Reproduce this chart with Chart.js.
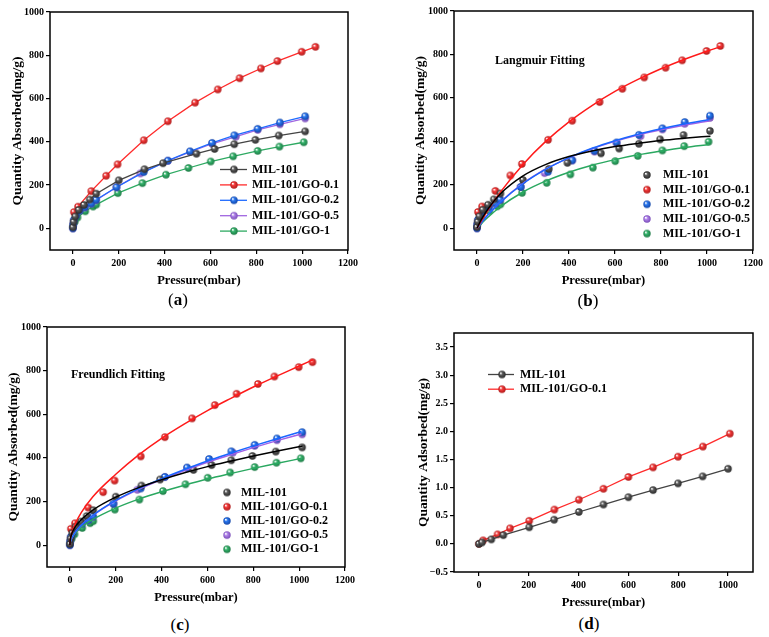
<!DOCTYPE html>
<html>
<head>
<meta charset="utf-8">
<script src="https://cdn.jsdelivr.net/npm/chart.js@4.4.0/dist/chart.umd.min.js"></script>
<style>
  body { margin: 0; background: #fff; width: 769px; height: 637px; position: relative; overflow: hidden; font-family: "Liberation Serif", serif; }
  canvas { position: absolute; }
  .cap { position: absolute; font-size: 17px; transform: translate(-50%, -50%); color: #000; }
</style>
</head>
<body>
<canvas id="chartA" width="380" height="292" style="left:0;top:0"></canvas>
<canvas id="chartB" width="365" height="292" style="left:404px;top:0"></canvas>
<canvas id="chartC" width="380" height="297" style="left:0;top:312px"></canvas>
<canvas id="chartD" width="365" height="302" style="left:404px;top:312px"></canvas>
<div class="cap" style="left:178px;top:300px">(<b>a</b>)</div>
<div class="cap" style="left:588px;top:301px">(<b>b</b>)</div>
<div class="cap" style="left:180px;top:625px">(<b>c</b>)</div>
<div class="cap" style="left:589px;top:624px">(<b>d</b>)</div>
<script>
// --- data: [pressure mbar, quantity mg/g] ---
const seriesNames = ['MIL-101', 'MIL-101/GO-0.1', 'MIL-101/GO-0.2', 'MIL-101/GO-0.5', 'MIL-101/GO-1'];

const mil101 = [[0,5],[3,30],[10,55],[25,85],[48,108],[73,133],[102,160],[200,222],[312,273],[393,301],[539,345],[618,367],[704,389],[796,409],[898,429],[1013,448]];
const go01 = [[4,75],[22,100],[80,172],[145,243],[195,296],[309,407],[414,495],[533,581],[632,642],[727,694],[820,739],[892,773],[998,816],[1058,839]];
const go02 = [[0,0],[1,18],[4,38],[13,58],[29,82],[52,98],[80,115],[101,132],[190,190],[309,260],[414,313],[511,356],[607,395],[704,430],[806,460],[903,489],[1013,518]];
const go05 = [[0,0],[1,17],[4,37],[13,57],[29,82],[52,97],[80,114],[101,130],[190,190],[294,254],[414,312],[511,353],[607,391],[711,424],[806,455],[903,481],[1013,508]];
const go1 = [[0,8],[8,30],[20,50],[54,79],[88,101],[102,110],[196,163],[303,209],[406,248],[504,279],[601,309],[699,333],[806,358],[901,378],[1007,398]];

// Langmuir fit curves, panel (b)
const langMil101 = [[0,0],[5,11],[10,22],[25,51],[50,92],[100,157],[200,241],[300,294],[400,330],[500,356],[600,376],[700,391],[800,404],[900,414],[1015,424]];
const langGo01 = [[0,0],[5,9],[10,18],[25,45],[50,87],[100,164],[200,294],[300,401],[400,490],[500,565],[600,630],[700,685],[800,734],[900,777],[1000,815],[1060,836]];
const langGo02 = [[0,0],[5,7],[10,14],[25,33],[50,64],[100,118],[200,205],[300,272],[400,325],[500,368],[600,403],[700,433],[800,458],[900,480],[1010,501]];
const langGo05 = [[0,0],[5,7],[10,14],[25,34],[50,65],[100,120],[200,207],[300,273],[400,324],[500,366],[600,400],[700,429],[800,453],[900,474],[1010,494]];
const langGo1 = [[0,0],[5,6],[10,12],[25,28],[50,53],[100,98],[200,167],[300,218],[400,258],[500,290],[600,316],[700,338],[800,356],[900,372],[1010,386]];

// Freundlich fit curves, panel (c)
const frMil101 = [[0,0],[1,21],[5,42],[10,58],[25,87],[50,118],[100,161],[200,220],[300,264],[400,300],[500,332],[600,360],[700,385],[800,409],[900,431],[1015,455]];
const frGo01 = [[0,0],[1,17],[5,43],[10,62],[25,102],[50,150],[100,222],[200,325],[300,414],[400,490],[500,556],[600,617],[700,672],[800,725],[900,774],[1000,821],[1060,850]];
const frGo02 = [[0,0],[1,10],[5,25],[10,36],[25,62],[50,92],[100,137],[200,205],[300,259],[400,305],[500,347],[600,386],[700,421],[800,455],[900,487],[1010,521]];
const frGo05 = [[0,0],[1,10],[5,25],[10,37],[25,62],[50,92],[100,136],[200,203],[300,256],[400,301],[500,342],[600,380],[700,414],[800,447],[900,478],[1010,510]];
const frGo1 = [[0,0],[1,11],[5,25],[10,35],[25,57],[50,82],[100,118],[200,170],[300,211],[400,245],[500,275],[600,303],[700,328],[800,352],[900,374],[1010,398]];

// panel (d)
const dMil101 = [[0,0],[12,0.025],[50,0.08],[98,0.155],[202,0.295],[302,0.43],[401,0.567],[500,0.70],[600,0.83],[699,0.956],[799,1.075],[898,1.2],[1000,1.335]];
const dGo01 = [[0,0],[17,0.062],[75,0.168],[125,0.275],[202,0.41],[303,0.61],[401,0.785],[500,0.98],[600,1.19],[699,1.36],[799,1.55],[899,1.73],[1007,1.96]];

const xTicks = [0, 200, 400, 600, 800, 1000, 1200];
const yTicks = [0, 200, 400, 600, 800, 1000];
const xTicksD = [0, 200, 400, 600, 800, 1000];
const yTicksD = [-0.5, 0, 0.5, 1.0, 1.5, 2.0, 2.5, 3.0, 3.5];

// --- styling ---
const SERIF = '"Liberation Serif", "Times New Roman", serif';
const lineColors = ['#444444', '#ff2b2b', '#1f6bff', '#a066e0', '#2eaa62'];
const fitColors = ['#000000', '#ff1a1a', '#1a66ff', '#a060e6', '#2aa860'];
const markFill = ['#5a5a5a', '#f43c3c', '#2a78f0', '#b084ea', '#35b46c'];
const markEdge = ['#2a2a2a', '#b01818', '#1246a8', '#7a4cb8', '#1c7a44'];

const pts = arr => arr.map(([x, y]) => ({ x, y }));

function sphere(fill, edge, r) {
  const c = document.createElement('canvas');
  const s = Math.ceil(r * 2 + 2);
  c.width = c.height = s;
  const g = c.getContext('2d');
  const m = s / 2;
  const grad = g.createRadialGradient(m - r * 0.35, m - r * 0.4, r * 0.1, m, m, r);
  grad.addColorStop(0, '#ffffff');
  grad.addColorStop(0.35, fill);
  grad.addColorStop(1, edge);
  g.fillStyle = grad;
  g.beginPath();
  g.arc(m, m, r, 0, Math.PI * 2);
  g.fill();
  return c;
}
const markers = markFill.map((f, i) => sphere(f, markEdge[i], 3.7));

const frame = {
  id: 'frame',
  afterDraw(chart) {
    const { ctx, chartArea: a } = chart;
    ctx.save();
    ctx.strokeStyle = '#000';
    ctx.lineWidth = 1.5;
    ctx.strokeRect(a.left, a.top, a.right - a.left, a.bottom - a.top);
    ctx.restore();
  }
};

// legend + note drawn inside the plot
function insideLegend(cfg) {
  return {
    id: 'insideLegend',
    afterDraw(chart) {
      const ctx = chart.ctx;
      ctx.save();
      ctx.font = 'bold 12px ' + SERIF;
      ctx.textBaseline = 'middle';
      ctx.fillStyle = '#000';
      cfg.items.forEach((idx, k) => {
        const y = cfg.y + k * cfg.gap;
        if (cfg.line) {
          ctx.strokeStyle = lineColors[idx];
          ctx.lineWidth = 1.3;
          ctx.beginPath();
          ctx.moveTo(cfg.x0, y);
          ctx.lineTo(cfg.x1, y);
          ctx.stroke();
        }
        const mk = markers[idx];
        ctx.drawImage(mk, cfg.mx - mk.width / 2, y - mk.height / 2);
        ctx.fillStyle = '#000';
        ctx.fillText(seriesNames[idx], cfg.tx, y);
      });
      if (cfg.note) {
        ctx.font = 'bold 12px ' + SERIF;
        ctx.fillText(cfg.note.text, cfg.note.x, cfg.note.y);
      }
      ctx.restore();
    }
  };
}

function scales(o) {
  const tickFont = { family: SERIF, size: 10, weight: 'bold' };
  const grid = { drawOnChartArea: false, drawTicks: true, tickLength: 4, color: '#000', lineWidth: 1.2 };
  return {
    x: {
      type: 'linear', min: o.xmin, max: o.xmax,
      afterBuildTicks: s => { s.ticks = o.xt.map(v => ({ value: v })); },
      afterFit: s => { s.height = 42; },
      border: { display: false },
      grid,
      ticks: { color: '#000', font: tickFont, padding: 3, maxRotation: 0, autoSkip: false, callback: v => String(v) },
      title: { display: true, text: 'Pressure(mbar)', color: '#000', font: { family: SERIF, size: 12.5, weight: 'bold' }, padding: { top: 0, bottom: 4 } }
    },
    y: {
      type: 'linear', min: o.ymin, max: o.ymax,
      afterBuildTicks: s => { s.ticks = o.yt.map(v => ({ value: v })); },
      afterFit: s => { s.width = o.yw; },
      border: { display: false },
      grid,
      ticks: { color: '#000', font: tickFont, padding: 2, autoSkip: false, callback: o.yfmt || (v => String(v)) },
      title: { display: true, text: o.ytitle, color: '#000', font: { family: SERIF, size: 13.5, weight: 'bold' }, padding: { top: o.tpad, bottom: 0 } }
    }
  };
}

function makeChart(id, datasets, o, legendCfg) {
  return new Chart(document.getElementById(id), {
    type: 'scatter',
    data: { datasets },
    options: {
      responsive: false,
      animation: false,
      events: [],
      layout: { padding: { top: o.ptop, right: o.pright, left: 0, bottom: 0 } },
      plugins: { legend: { display: false }, tooltip: { enabled: false } },
      scales: scales(o)
    },
    plugins: [frame, insideLegend(legendCfg)]
  });
}

const measured = [mil101, go01, go02, go05, go1];
const langmuir = [langMil101, langGo01, langGo02, langGo05, langGo1];
const freundlich = [frMil101, frGo01, frGo02, frGo05, frGo1];

// (a) measured isotherms with connecting lines
const dsA = measured.map((d, i) => ({
  data: pts(d), showLine: true, borderColor: lineColors[i], borderWidth: 1.3,
  pointStyle: markers[i], tension: 0
}));
makeChart('chartA', dsA,
  { xmin: -100, xmax: 1200, ymin: -100, ymax: 1000, xt: xTicks, yt: yTicks, yw: 50, tpad: 9.4, ptop: 12, pright: 32, ytitle: 'Quantity Absorbed(mg/g)' },
  { items: [0, 1, 2, 3, 4], line: true, x0: 220, x1: 247, mx: 234, tx: 252, y: 169.5, gap: 15.4 });

function fitted(curves) {
  const lines = curves.map((d, i) => ({
    data: pts(d), showLine: true, borderColor: fitColors[i], borderWidth: 1.5,
    pointRadius: 0, cubicInterpolationMode: 'monotone', order: 0
  }));
  const dots = measured.map((d, i) => ({
    data: pts(d), showLine: false, pointStyle: markers[i], order: 1
  }));
  return lines.concat(dots);
}

// (b) Langmuir
makeChart('chartB', fitted(langmuir),
  { xmin: -100, xmax: 1200, ymin: -100, ymax: 1000, xt: xTicks, yt: yTicks, yw: 50, tpad: 8.9, ptop: 11, pright: 16, ytitle: 'Quantity Absorbed(mg/g)' },
  { items: [0, 1, 2, 3, 4], line: false, mx: 243, tx: 259, y: 175, gap: 14.65, note: { text: 'Langmuir Fitting', x: 91, y: 61 } });

// (c) Freundlich
makeChart('chartC', fitted(freundlich),
  { xmin: -100, xmax: 1200, ymin: -100, ymax: 1000, xt: xTicks, yt: yTicks, yw: 47, tpad: 5.9, ptop: 15, pright: 35, ytitle: 'Quantity Absorbed(mg/g)' },
  { items: [0, 1, 2, 3, 4], line: false, mx: 227, tx: 241, y: 180.5, gap: 14.2, note: { text: 'Freundlich Fitting', x: 71, y: 63 } });

// (d) low-pressure isotherms
const dsD = [dMil101, dGo01].map((d, i) => ({
  data: pts(d), showLine: true, borderColor: lineColors[i], borderWidth: 1.3,
  pointStyle: markers[i], tension: 0
}));
makeChart('chartD', dsD,
  { xmin: -100, xmax: 1100, ymin: -0.5, ymax: 3.75, xt: xTicksD, yt: yTicksD, yw: 50, tpad: 11.2, ptop: 21, pright: 16, ytitle: 'Quantity Adsorbed(mg/g)',
    yfmt: v => (v < 0 ? '\u2212' : '') + Math.abs(v).toFixed(1) },
  { items: [0, 1], line: true, x0: 84, x1: 110, mx: 98, tx: 116, y: 62.5, gap: 14.7 });
</script>
</body>
</html>
